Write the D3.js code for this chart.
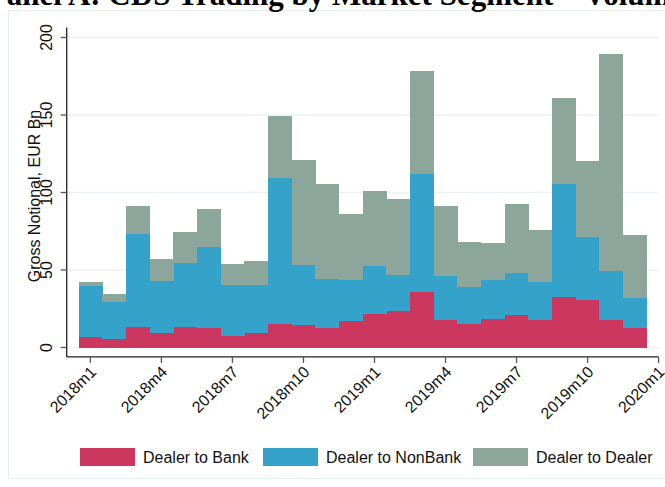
<!DOCTYPE html>
<html><head><meta charset="utf-8">
<script src="https://cdn.jsdelivr.net/npm/d3@7"></script>
<style>
html,body{margin:0;padding:0;background:#fff;}
svg{display:block;}
</style></head>
<body>
<svg id="c" width="665" height="487"></svg>
<script>
const months = ["2018m1","2018m2","2018m3","2018m4","2018m5","2018m6","2018m7","2018m8","2018m9","2018m10","2018m11","2018m12",
"2019m1","2019m2","2019m3","2019m4","2019m5","2019m6","2019m7","2019m8","2019m9","2019m10","2019m11","2019m12"];
const dealerToBank    = [6.8,5.5,13.2,9.4,13.2,12.6,7.4,9.4,15.2,14.5,12.6,17.1,21.6,23.5,36.0,17.7,15.2,18.4,21.0,17.7,32.6,30.6,17.7,12.6];
const dealerToNonBank = [32.9,23.9,60.0,33.5,41.3,52.2,32.9,30.9,94.2,38.7,31.6,26.4,31.0,23.3,75.9,28.4,23.8,25.1,27.1,24.6,72.9,40.7,31.7,19.3];
const dealerToDealer  = [2.6,5.1,18.1,14.2,20.0,24.6,13.6,15.5,40.0,67.8,61.3,42.6,48.4,49.0,66.5,45.2,29.1,23.9,44.5,33.5,55.5,49.0,140.0,40.7];
const seriesNames = ["Dealer to Bank","Dealer to NonBank","Dealer to Dealer"];
const seriesColors = ["#cc3760","#34a2c9","#8ca69b"];
const yTicks = [0,50,100,150,200];
const xTickIdx = [0,3,6,9,12,15,18,21,24];
const xTickLabels = ["2018m1","2018m4","2018m7","2018m10","2019m1","2019m4","2019m7","2019m10","2020m1"];
const title = "Panel A: CDS Trading by Market Segment \u2013 Volume";
const yTitle = "Gross Notional, EUR Bn";

const svg = d3.select("#c");
const font = "'Liberation Sans', Arial, sans-serif";

// outer frame
svg.append("rect").attr("x",8.5).attr("y",10.5).attr("width",700).attr("height",468)
  .attr("fill","none").attr("stroke","#e6eef0").attr("stroke-width",1);

// title (cut by the top edge)
svg.append("text").attr("x",336).attr("y",5)
  .attr("text-anchor","middle").attr("font-family","'Liberation Serif','Times New Roman',serif")
  .attr("font-weight","bold").attr("font-size",31).attr("fill","#000").text(title);

const x = d3.scaleLinear().domain([-1,24]).range([66.7,658.6]);
const y = d3.scaleLinear().domain([0,200]).range([347.5,37.5]);
const yBottom = y(-6.1), yTop = y(206.5);

// gridlines
svg.append("g").selectAll("line").data(yTicks).join("line")
  .attr("x1",x(-1)).attr("x2",x(24)).attr("y1",d=>y(d)).attr("y2",d=>y(d))
  .attr("stroke","#eaf2f3").attr("stroke-width",1.5);

// stacked data
const rows = months.map((m,i)=>({i, a:dealerToBank[i], b:dealerToNonBank[i], c:dealerToDealer[i]}));
const stack = d3.stack().keys(["a","b","c"])(rows);
const g = svg.append("g");
stack.forEach((layer,k)=>{
  g.append("g").selectAll("rect").data(layer).join("rect")
    .attr("x",d=>x(d.data.i-0.5)).attr("width",d=>x(d.data.i+0.5)-x(d.data.i-0.5)+0.4)
    .attr("y",d=>y(d[1])).attr("height",d=>y(d[0])-y(d[1]))
    .attr("fill",seriesColors[k]).attr("shape-rendering","crispEdges");
});

// y axis
const yAxis = svg.append("g").attr("transform",`translate(${x(-1)},0)`);
yAxis.append("line").attr("x1",0).attr("x2",0).attr("y1",yTop).attr("y2",yBottom).attr("stroke","#222").attr("stroke-width",1.3);
yAxis.selectAll(".t").data(yTicks).join("line").attr("class","t")
  .attr("x1",-6).attr("x2",0).attr("y1",d=>y(d)).attr("y2",d=>y(d)).attr("stroke","#555").attr("stroke-width",1.3);
yAxis.selectAll(".l").data(yTicks).join("text").attr("class","l")
  .attr("transform",d=>`translate(-15,${y(d)}) rotate(-90)`)
  .attr("text-anchor","middle").attr("font-family",font).attr("font-size",16).attr("fill","#111")
  .text(d=>d);
svg.append("text").attr("transform",`translate(39.5,196) rotate(-90)`)
  .attr("text-anchor","middle").attr("font-family",font).attr("font-size",16).attr("fill","#111").text(yTitle);

// x axis
const xAxis = svg.append("g").attr("transform",`translate(0,${yBottom})`);
xAxis.append("line").attr("x1",x(-1)).attr("x2",x(24)).attr("y1",0).attr("y2",0).attr("stroke","#222").attr("stroke-width",1.3);
xAxis.selectAll(".t").data(xTickIdx).join("line").attr("class","t")
  .attr("x1",d=>x(d)).attr("x2",d=>x(d)).attr("y1",0).attr("y2",6).attr("stroke","#555").attr("stroke-width",1.3);
xAxis.selectAll(".l").data(xTickIdx).join("text").attr("class","l")
  .attr("transform",d=>`translate(${x(d)+3},${12}) rotate(-45)`)
  .attr("text-anchor","end").attr("dy","0.35em").attr("font-family",font).attr("font-size",16).attr("fill","#111")
  .text((d,i)=>xTickLabels[i]);

// legend
const legX = [80,263,473];
const leg = svg.append("g");
seriesNames.forEach((n,k)=>{
  leg.append("rect").attr("x",legX[k]).attr("y",448).attr("width",55).attr("height",18).attr("fill",seriesColors[k]);
  leg.append("text").attr("x",legX[k]+63).attr("y",463).attr("font-family",font).attr("font-size",16).attr("fill","#111").text(n);
});
</script>
</body></html>
